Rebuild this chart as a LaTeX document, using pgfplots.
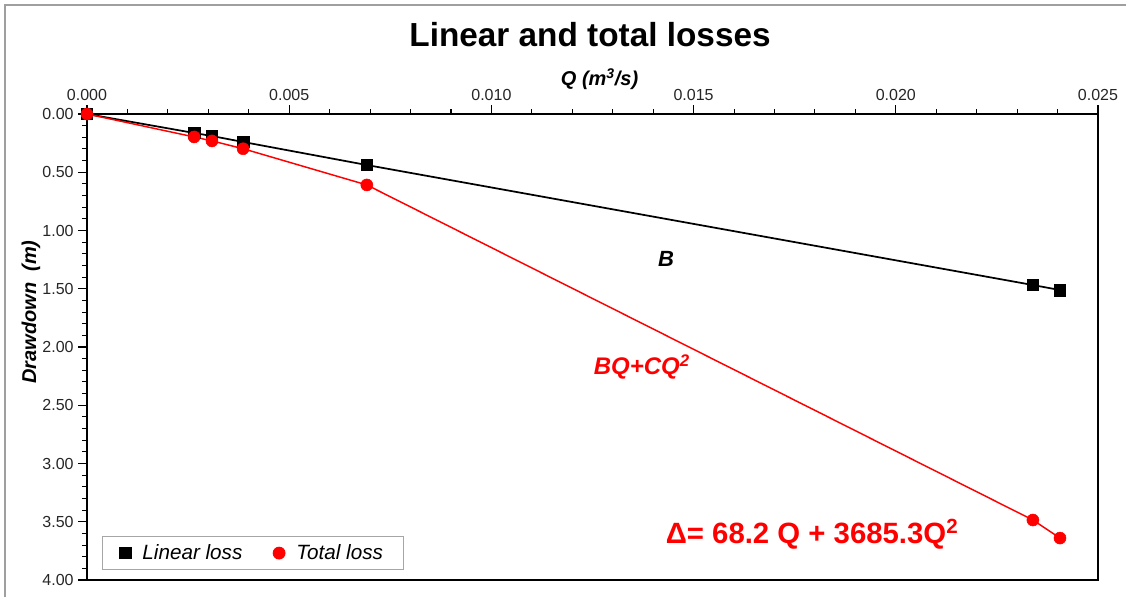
\documentclass[border=0pt]{standalone}
\usepackage{pgfplots}
\pgfplotsset{compat=1.18}
\usepackage{pgfplotstable}
\usepackage{fontspec}
\setmainfont{Liberation Sans}

\pgfplotstableread{
Q lin tot
0 0 0
0.00265 0.163 0.197
0.00309 0.189 0.231
0.00386 0.240 0.298
0.00692 0.438 0.609
0.02339 1.468 3.485
0.02406 1.511 3.640
}\datatable

\begin{document}
\begin{tikzpicture}
\useasboundingbox (0,0) rectangle (844.5pt,447pt);
\draw[gray!75, line width=1.5pt] (3.75pt,-5pt) -- (3.75pt,443pt) -- (860pt,443pt);
\node[font=\fontsize{25}{29}\selectfont\bfseries, anchor=base] at (442.5pt,411.75pt) {Linear and total losses};
\begin{axis}[
  at={(65.25pt,12pt)}, anchor=south west,
  scale only axis, width=758.25pt, height=349.5pt,
  xmin=0, xmax=0.025, ymin=0, ymax=4, y dir=reverse,
  clip=false,
  xtick={0,0.005,0.01,0.015,0.02,0.025},
  ytick={0,0.5,1,1.5,2,2.5,3,3.5,4},
  minor x tick num=4, minor y tick num=4,
  xtick pos=right, xticklabel pos=right, ytick pos=left,
  tick align=outside,
  major tick length=6.5pt, minor tick length=3.5pt,
  tick style={black, line width=0.8pt},
  axis line style={black, line width=1.3pt},
  scaled x ticks=false, scaled y ticks=false,
  /pgf/number format/assume math mode=true,
  ticklabel style={font=\fontsize{12}{14}\selectfont, text=black!85},
  xticklabel style={/pgf/number format/.cd, fixed, fixed zerofill, precision=3},
  yticklabel style={/pgf/number format/.cd, fixed, fixed zerofill, precision=2},
  xlabel={Q (m\textsuperscript{3}/s)},
  xlabel style={at={(axis description cs:0.507,1.062)}, anchor=base, font=\fontsize{15}{18}\selectfont\bfseries\itshape},
  ylabel={Drawdown~ (m)},
  ylabel style={at={(axis description cs:-0.0554,0.575)}, anchor=center, font=\fontsize{15}{18}\selectfont\bfseries\itshape},
  legend columns=2,
  legend style={at={(axis description cs:0.0148,0.0215)}, anchor=south west, draw=gray!70, line width=0.6pt,
    font=\fontsize{15.5}{18}\selectfont\itshape,
    /tikz/every odd column/.append style={column sep=6.5pt},
    /tikz/every even column/.append style={column sep=21pt},
    inner xsep=13pt, inner ysep=4pt},
]
\addplot[black, line width=1.3pt, forget plot] table[x=Q,y=lin]{\datatable};
\addplot[red, line width=1.1pt, sharp plot, forget plot] table[x=Q,y=tot]{\datatable};
\addplot[only marks, mark=square*, mark size=4.3pt, black] table[x=Q,y=lin]{\datatable};
\addlegendentry{Linear loss}
\addplot[only marks, mark=*, mark size=4.5pt, red] table[x=Q,y=tot]{\datatable};
\addlegendentry{Total loss}
\node[font=\fontsize{16.5}{18}\selectfont\bfseries\itshape] at (axis cs:0.01432,1.245) {B};
\node[red, font=\fontsize{18}{20}\selectfont\bfseries\itshape] at (axis cs:0.01372,2.17) {BQ+CQ\textsuperscript{2}};
\node[red, font=\fontsize{22}{26}\selectfont\bfseries, anchor=base] at (axis cs:0.01793,3.69) {Δ= 68.2 Q + 3685.3Q\textsuperscript{2}};
\end{axis}
\end{tikzpicture}
\end{document}
